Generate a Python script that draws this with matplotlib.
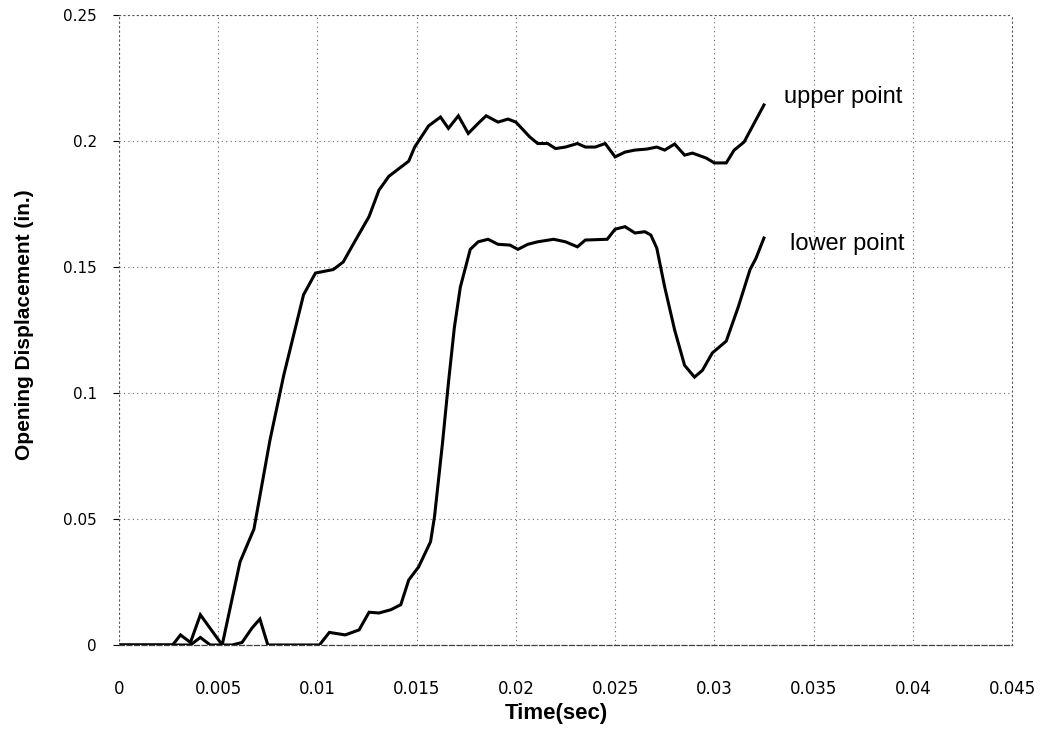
import matplotlib
matplotlib.use("Agg")
import matplotlib.pyplot as plt

# ---- data ----
t_upper = [0.0, 0.0027, 0.0031, 0.0036, 0.0041, 0.0052, 0.0061, 0.0068, 0.0076, 0.0083,
           0.0093, 0.0099, 0.0108, 0.0113, 0.0118, 0.0126, 0.0131, 0.0136, 0.0146, 0.0149,
           0.0156, 0.0162, 0.0166, 0.0171, 0.0176, 0.0181, 0.0185, 0.0191, 0.0196, 0.0200,
           0.0207, 0.0211, 0.0216, 0.0220, 0.0225, 0.0231, 0.0235, 0.0240, 0.0245, 0.0250,
           0.0255, 0.0260, 0.0266, 0.0271, 0.0275, 0.0280, 0.0285, 0.0289, 0.0296, 0.0300,
           0.0306, 0.0310, 0.0315, 0.0325]
upper = [0.0, 0.0, 0.004, 0.001, 0.012, 0.0, 0.033, 0.046, 0.081, 0.107,
         0.139, 0.1476, 0.149, 0.152, 0.159, 0.170, 0.1805, 0.186, 0.192, 0.1976,
         0.206, 0.2095, 0.205, 0.210, 0.203, 0.207, 0.210, 0.2075, 0.2087, 0.2075,
         0.2016, 0.199, 0.199, 0.197, 0.1976, 0.199, 0.1976, 0.1976, 0.199, 0.1937,
         0.1956, 0.1964, 0.1968, 0.1976, 0.1964, 0.1988, 0.1944, 0.1952, 0.1932, 0.1913,
         0.1913, 0.1964, 0.1996, 0.2143]

t_lower = [0.0, 0.0036, 0.0041, 0.0046, 0.0057, 0.0062, 0.0067, 0.0071, 0.0075, 0.0101,
           0.0106, 0.0114, 0.0121, 0.0126, 0.0131, 0.0137, 0.0142, 0.0146, 0.0151, 0.0157,
           0.0159, 0.0163, 0.0166, 0.0169, 0.0172, 0.0177, 0.0181, 0.0186, 0.0191, 0.0197,
           0.0201, 0.0206, 0.0211, 0.0219, 0.0225, 0.0231, 0.0235, 0.0246, 0.0250, 0.0255,
           0.0260, 0.0265, 0.0268, 0.0271, 0.0275, 0.0280, 0.0285, 0.0290, 0.0294, 0.0299,
           0.0306, 0.0312, 0.0318, 0.0321, 0.0325]
lower = [0.0, 0.0, 0.003, 0.0, 0.0, 0.001, 0.0067, 0.0103, 0.0, 0.0,
         0.005, 0.004, 0.006, 0.013, 0.0127, 0.014, 0.016, 0.0258, 0.031, 0.041,
         0.051, 0.080, 0.104, 0.126, 0.142, 0.157, 0.160, 0.161, 0.159, 0.1587,
         0.157, 0.159, 0.160, 0.161, 0.160, 0.158, 0.1607, 0.161, 0.165, 0.166,
         0.1635, 0.164, 0.1627, 0.1575, 0.142, 0.125, 0.111, 0.1063, 0.109, 0.1159,
         0.1206, 0.134, 0.149, 0.1535, 0.1615]

x_ticks = [0, 0.005, 0.01, 0.015, 0.02, 0.025, 0.03, 0.035, 0.04, 0.045]
x_tick_labels = ["0", "0.005", "0.01", "0.015", "0.02", "0.025", "0.03", "0.035", "0.04", "0.045"]
y_ticks = [0, 0.05, 0.1, 0.15, 0.2, 0.25]
y_tick_labels = ["0", "0.05", "0.1", "0.15", "0.2", "0.25"]

series_labels = ["upper point", "lower point"]
label_pos = [(0.0335, 0.2151), (0.0338, 0.1567)]

# ---- figure ----
W, H = 1046, 732
fig = plt.figure(figsize=(W / 100, H / 100), dpi=100)
ax = fig.add_axes([119 / W, 87 / H, 893 / W, 630 / H])

ax.plot(t_upper, upper, color="black", lw=2.2, solid_joinstyle="miter")
ax.plot(t_lower, lower, color="black", lw=2.2, solid_joinstyle="miter")

ax.set_xlim(0, 0.045)
ax.set_ylim(0, 0.25)
ax.set_xticks(x_ticks)
ax.set_xticklabels(x_tick_labels, family="DejaVu Sans", fontsize=12)
ax.set_yticks(y_ticks)
ax.set_yticklabels(y_tick_labels, family="DejaVu Sans", fontsize=11)

ax.tick_params(axis="x", length=0, pad=25)
ax.tick_params(axis="y", length=4, width=0.8, direction="out", pad=12)

ax.grid(True, color="0.4", lw=0.8, linestyle=(0, (1, 3)))
for side in ["top", "right", "left"]:
    ax.spines[side].set_linestyle((0, (1, 3)))
    ax.spines[side].set_color("0.35")
    ax.spines[side].set_linewidth(0.8)
ax.spines["bottom"].set_linestyle((0, (4, 2)))
ax.spines["bottom"].set_color("0.25")
ax.spines["bottom"].set_linewidth(0.9)

for txt, (tx, ty) in zip(series_labels, label_pos):
    ax.text(tx, ty, txt, fontsize=17, family="Liberation Sans",
            ha="left", va="baseline", color="black")

fig.text(556 / W, 1 - 714 / H, "Time(sec)", fontsize=16, fontweight="bold",
         family="Liberation Sans", ha="center", va="center")
fig.text(25 / W, 1 - 325 / H, "Opening Displacement (in.)", fontsize=15,
         fontweight="bold", family="Liberation Sans", rotation=90,
         ha="center", va="center")

fig.savefig("out.png", dpi=100)
